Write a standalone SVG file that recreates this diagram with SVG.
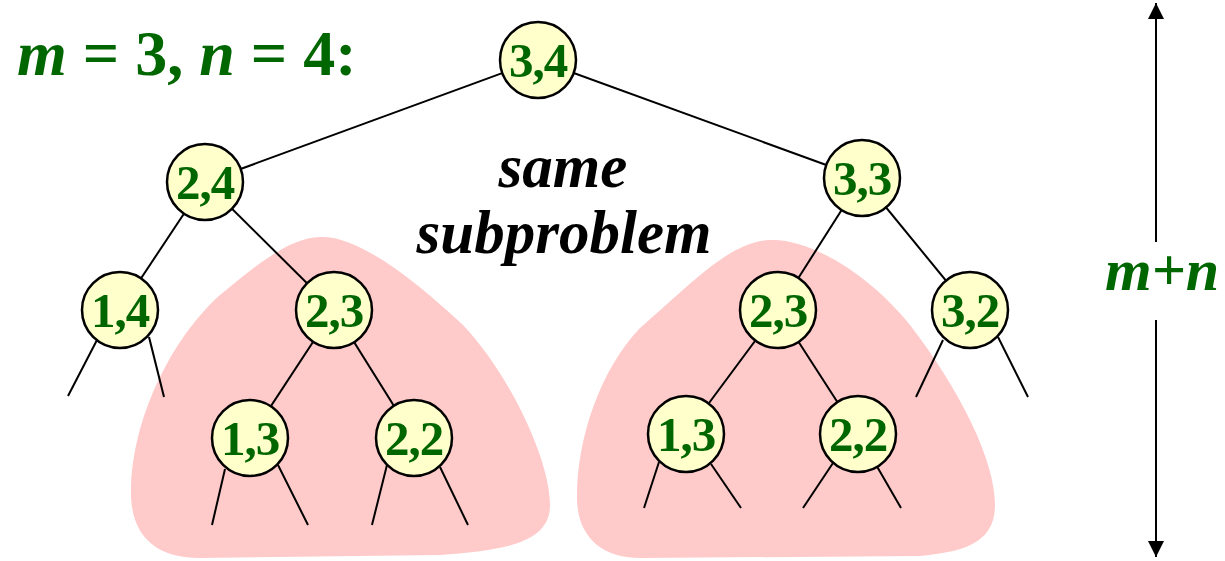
<svg xmlns="http://www.w3.org/2000/svg" width="1225" height="561" viewBox="0 0 1225 561">
<style>
.blob{fill:#ffcaca;stroke:none}
.e{stroke:#000;stroke-width:2;fill:none}
.n circle{fill:#ffffcc;stroke:#000;stroke-width:2.5}
.n text{font-family:"Liberation Serif",serif;font-weight:bold;font-size:49px;fill:#006600;text-anchor:middle;letter-spacing:-1px}
.g{font-family:"Liberation Serif",serif;font-weight:bold;fill:#006600}
.k{font-family:"Liberation Serif",serif;font-weight:bold;font-style:italic;fill:#000;font-size:61px;text-anchor:middle}
</style>
<defs>
<marker id="ah" viewBox="0 0 16 16" refX="16" refY="8" markerWidth="16" markerHeight="16" markerUnits="userSpaceOnUse" orient="auto">
<path d="M0,0 L16,8 L0,16 Z" fill="#000"/>
</marker>
</defs>
<g id="blobs">
<path class="blob" d="M320,237 C360,235 420,285 463,325 C510,375 550,460 550,505 C550,545 500,550 440,555 L200,558 C150,558 130,530 131,490 C132,420 170,340 220,295 C260,262 290,238 320,237 Z"/>
<path class="blob" d="M770,240 C810,238 870,275 910,325 C960,390 995,460 995,505 C995,545 960,552 920,556 L640,558 C600,558 578,535 577,500 C576,440 600,370 640,328 C690,285 730,241 770,240 Z"/>
</g>
<g id="connectors">
<line class="e" x1="538" y1="60" x2="205" y2="182"/>
<line class="e" x1="538" y1="60" x2="862" y2="178"/>
<line class="e" x1="205" y1="182" x2="120" y2="310"/>
<line class="e" x1="205" y1="182" x2="334" y2="310"/>
<line class="e" x1="862" y1="178" x2="778" y2="310"/>
<line class="e" x1="862" y1="178" x2="970" y2="310"/>
<line class="e" x1="334" y1="310" x2="250" y2="438"/>
<line class="e" x1="334" y1="310" x2="414" y2="438"/>
<line class="e" x1="778" y1="310" x2="686" y2="434"/>
<line class="e" x1="778" y1="310" x2="858" y2="434"/>
<line class="e" x1="97" y1="340" x2="68" y2="396"/>
<line class="e" x1="149" y1="337" x2="164" y2="397"/>
<line class="e" x1="943" y1="340" x2="916" y2="397"/>
<line class="e" x1="998" y1="337" x2="1028" y2="397"/>
<line class="e" x1="225" y1="469" x2="212" y2="525"/>
<line class="e" x1="278" y1="465" x2="308" y2="525"/>
<line class="e" x1="387" y1="465" x2="372" y2="525"/>
<line class="e" x1="440" y1="467" x2="468" y2="525"/>
<line class="e" x1="659" y1="462" x2="644" y2="508"/>
<line class="e" x1="711" y1="464" x2="741" y2="508"/>
<line class="e" x1="833" y1="463" x2="803" y2="508"/>
<line class="e" x1="875" y1="463" x2="901" y2="508"/>
<line class="e" x1="1156" y1="242" x2="1156" y2="3" marker-end="url(#ah)"/>
<line class="e" x1="1156" y1="320" x2="1156" y2="557" marker-end="url(#ah)"/>
</g>
<g id="n34" class="n"><circle cx="538" cy="60" r="38"/><text x="538" y="77">3,4</text></g>
<g id="n24" class="n"><circle cx="205" cy="182" r="38"/><text x="205" y="199">2,4</text></g>
<g id="n33" class="n"><circle cx="862" cy="178" r="38"/><text x="862" y="195">3,3</text></g>
<g id="n14" class="n"><circle cx="120" cy="310" r="38"/><text x="120" y="327">1,4</text></g>
<g id="n23a" class="n"><circle cx="334" cy="310" r="38"/><text x="334" y="327">2,3</text></g>
<g id="n23b" class="n"><circle cx="778" cy="310" r="38"/><text x="778" y="327">2,3</text></g>
<g id="n32" class="n"><circle cx="970" cy="310" r="38"/><text x="970" y="327">3,2</text></g>
<g id="n13a" class="n"><circle cx="250" cy="438" r="38"/><text x="250" y="455">1,3</text></g>
<g id="n22a" class="n"><circle cx="414" cy="438" r="38"/><text x="414" y="455">2,2</text></g>
<g id="n13b" class="n"><circle cx="686" cy="434" r="38"/><text x="686" y="451">1,3</text></g>
<g id="n22b" class="n"><circle cx="858" cy="434" r="38"/><text x="858" y="451">2,2</text></g>
<g id="labels">
<text class="g" x="17" y="75" font-size="64"><tspan font-style="italic">m</tspan> = 3, <tspan font-style="italic">n</tspan> = 4:</text>
<text class="k" x="563" y="187">same</text>
<text class="k" x="564" y="253">subproblem</text>
<text class="g" x="1162" y="290" font-size="60" font-style="italic" text-anchor="middle">m+n</text>
</g>
</svg>
